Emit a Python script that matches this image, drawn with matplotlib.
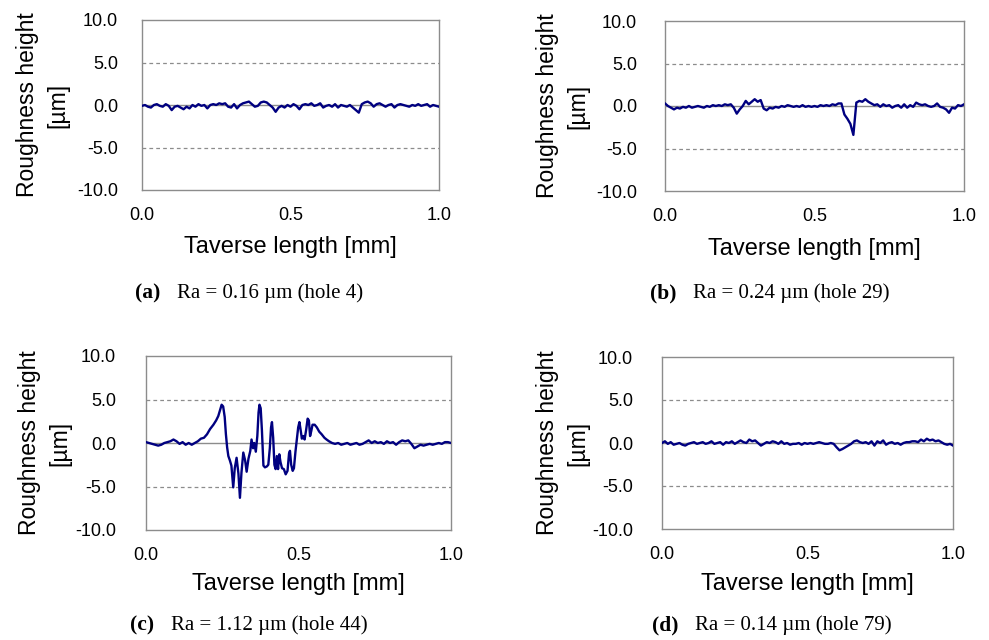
import numpy as np
import matplotlib
matplotlib.use('Agg')
import matplotlib.pyplot as plt

# sample positions of the profile traces [mm]
trace_x = np.round(np.arange(0, 1.0001, 0.01), 2)

# (a) hole 4
hole4_y = [-0.1, 0.0, -0.2, -0.3, 0.0, 0.1, -0.1, -0.2, 0.1, -0.1,
           -0.6, -0.2, -0.1, -0.3, -0.5, -0.2, -0.4, 0.0, -0.2, 0.1,
           -0.1, 0.0, -0.4, 0.0, 0.1, 0.0, 0.2, 0.1, 0.2, -0.2,
           -0.3, 0.1, -0.4, 0.0, 0.2, 0.3, 0.4, 0.1, -0.2, -0.1,
           0.3, 0.4, 0.3, 0.0, -0.3, -0.8, -0.3, -0.1, -0.3, 0.0,
           -0.2, 0.1, -0.1, -0.5, 0.0, 0.1, 0.0, 0.2, -0.1, 0.0,
           0.2, -0.3, -0.1, 0.0, -0.2, 0.1, -0.3, 0.0, -0.1, -0.2,
           0.0, -0.3, -0.6, -0.9, 0.1, 0.3, 0.4, 0.2, -0.2, 0.1,
           0.2, 0.0, -0.2, 0.0, 0.1, -0.3, 0.0, 0.1, 0.0, -0.1,
           -0.2, 0.0, -0.1, 0.1, -0.1, 0.0, 0.1, -0.2, 0.0, -0.1,
           -0.2]

# (b) hole 29
hole29_y = [0.3, 0.0, -0.2, -0.4, -0.2, -0.3, -0.1, -0.2, 0.0, -0.2,
            -0.1, 0.0, -0.1, -0.2, 0.0, -0.1, 0.1, 0.0, 0.1, 0.0,
            0.2, 0.1, 0.2, -0.2, -0.9, -0.4, 0.0, 0.6, 0.2, 0.5,
            0.8, 0.5, 0.7, -0.3, -0.5, -0.2, -0.3, -0.1, -0.2, 0.0,
            -0.1, 0.1, 0.0, -0.1, 0.0, -0.1, 0.1, -0.1, 0.0, -0.1,
            0.0, -0.1, 0.1, 0.0, 0.1, 0.0, 0.2, 0.1, 0.3, 0.3,
            -1.0, -1.5, -2.1, -3.4, 0.4, 0.6, 0.5, 0.8, 0.5, 0.3,
            0.1, 0.2, -0.1, 0.2, 0.0, 0.1, -0.2, 0.0, 0.1, -0.2,
            0.2, -0.2, 0.1, -0.1, 0.4, 0.2, 0.1, 0.2, 0.0, -0.1,
            0.0, 0.3, -0.1, -0.2, -0.4, -0.8, -0.2, -0.3, 0.1, 0.0,
            0.2]

# (c) hole 44 (irregular sampling around the defect)
hole44_x = [0.00, 0.02, 0.04, 0.05, 0.06, 0.08, 0.09, 0.10, 0.11, 0.12,
            0.13, 0.14, 0.15, 0.16, 0.17, 0.18, 0.19, 0.20, 0.21, 0.221,
            0.23, 0.237, 0.243, 0.248, 0.253, 0.258, 0.262, 0.266, 0.270, 0.275,
            0.280, 0.286, 0.291, 0.297, 0.303, 0.308, 0.313, 0.319, 0.325, 0.330,
            0.336, 0.342, 0.346, 0.351, 0.355, 0.360, 0.365, 0.369, 0.372, 0.376,
            0.380, 0.385, 0.390, 0.396, 0.401, 0.406, 0.410, 0.413, 0.417, 0.421,
            0.425, 0.429, 0.433, 0.437, 0.441, 0.446, 0.452, 0.458, 0.464, 0.469,
            0.472, 0.476, 0.481, 0.485, 0.490, 0.494, 0.499, 0.503, 0.507, 0.511,
            0.516, 0.520, 0.525, 0.530, 0.534, 0.538, 0.542, 0.546, 0.553, 0.560,
            0.568, 0.576, 0.585, 0.592, 0.60, 0.61, 0.62, 0.63, 0.64, 0.65,
            0.66, 0.67, 0.68, 0.69, 0.70, 0.71, 0.72, 0.73, 0.74, 0.75,
            0.76, 0.77, 0.78, 0.79, 0.80, 0.81, 0.82, 0.83, 0.84, 0.85,
            0.86, 0.87, 0.88, 0.89, 0.90, 0.91, 0.92, 0.93, 0.94, 0.95,
            0.96, 0.97, 0.98, 0.99, 1.00]
hole44_y = [0.1, -0.1, -0.3, -0.2, 0.0, 0.2, 0.4, 0.2, -0.1, 0.1,
            -0.2, 0.0, -0.2, 0.0, 0.2, 0.5, 0.6, 1.0, 1.6, 2.1,
            2.6, 3.1, 3.8, 4.4, 4.2, 3.0, 1.0, -0.5, -1.5, -2.0,
            -2.6, -5.1, -2.9, -1.7, -3.5, -6.3, -3.4, -1.1, -2.0, -3.3,
            -1.8, -0.9, 0.4, -0.6, 0.0, -1.0, 0.8, 3.5, 4.4, 4.0,
            1.5, -2.6, -2.8, -2.7, -2.5, -0.6, 1.8, 2.4, 0.6, -2.5,
            -3.0, -1.5, -3.0, -1.3, -2.2, -2.9, -3.0, -3.6, -3.2, -1.2,
            -0.9, -2.5, -3.2, -2.9, -1.0, 0.2, 1.8, 2.4, 1.5, 0.5,
            0.8, 0.4, 1.5, 2.8, 2.6, 0.8, 1.4, 2.1, 2.1, 1.8,
            1.3, 1.0, 0.6, 0.4, 0.2, 0.0, -0.1, 0.0, -0.2, -0.1,
            0.0, -0.2, -0.1, 0.0, -0.2, -0.1, 0.1, 0.3, 0.0, 0.2,
            0.0, 0.1, -0.1, 0.2, 0.0, 0.1, -0.2, 0.1, 0.3, 0.2,
            0.3, -0.1, -0.6, -0.4, -0.2, -0.3, -0.2, -0.1, -0.2, -0.1,
            0.0, -0.1, 0.1, 0.1, 0.0]

# (d) hole 79
hole79_y = [0.0, 0.2, -0.1, 0.1, -0.2, -0.1, 0.0, -0.2, -0.3, -0.1,
            0.0, 0.1, -0.1, 0.0, 0.1, -0.1, 0.0, 0.2, -0.1, 0.0,
            0.1, -0.2, 0.1, 0.0, 0.2, -0.1, 0.1, 0.3, 0.1, 0.0,
            0.4, 0.2, 0.3, 0.0, -0.3, -0.1, 0.1, 0.0, 0.2, 0.1,
            -0.1, 0.2, -0.1, 0.0, -0.2, -0.1, -0.1, 0.0, -0.2, 0.0,
            -0.1, 0.0, -0.1, 0.0, 0.1, 0.0, -0.1, -0.1, 0.0, -0.1,
            -0.5, -0.85, -0.7, -0.5, -0.3, -0.1, 0.2, 0.3, 0.1, 0.0,
            0.1, -0.1, 0.2, -0.3, 0.2, 0.0, 0.3, -0.2, 0.0, 0.1,
            -0.1, 0.0, -0.2, 0.0, 0.1, 0.1, 0.2, 0.2, 0.1, 0.4,
            0.2, 0.5, 0.3, 0.4, 0.2, 0.3, 0.1, -0.1, -0.2, -0.1,
            -0.3]

x_ticks = [0.0, 0.5, 1.0]
y_ticks = [-10.0, -5.0, 0.0, 5.0, 10.0]
panel_tags = ['(a)', '(b)', '(c)', '(d)']
captions = ['Ra = 0.16 \u00b5m (hole 4)', 'Ra = 0.24 \u00b5m (hole 29)',
            'Ra = 1.12 \u00b5m (hole 44)', 'Ra = 0.14 \u00b5m (hole 79)']

W, H = 989, 640
fig = plt.figure(figsize=(W / 100, H / 100), dpi=100)

# axes boxes in pixels: left, top, right, bottom
boxes = [(142, 20, 439, 190), (665, 21, 964, 191),
         (146, 356, 451, 530), (662, 357, 953, 529)]
ypads = [24, 28, 30, 29]
ylabel_x = [-0.246, -0.254, -0.246, -0.251]
xlabel_y = [-0.27, -0.276, -0.247, -0.256]
caption_pos = [(135, 293), (650, 293), (130, 625), (652, 625)]
traces = [(trace_x, hole4_y), (trace_x, hole29_y),
          (hole44_x, hole44_y), (trace_x, hole79_y)]

sans = ['Liberation Sans', 'DejaVu Sans']
serif = ['Liberation Serif', 'DejaVu Serif']
grey = '#8c8c8c'

for i, (l, t, r, b) in enumerate(boxes):
    ax = fig.add_axes([l / W, 1 - b / H, (r - l) / W, (b - t) / H])
    x, y = traces[i]
    for g in [-5, 5]:
        ax.axhline(g, color=grey, lw=0.9, ls=(0, (3, 2.5)), zorder=1)
    ax.axhline(0, color=grey, lw=1.0, zorder=1)
    ax.plot(x, y, color='#000080', lw=1.7, zorder=3)
    ax.set_xlim(0, 1)
    ax.set_ylim(-10, 10)
    ax.set_xticks(x_ticks)
    ax.set_xticklabels(['%.1f' % v for v in x_ticks], family=sans, fontsize=13)
    ax.set_yticks(y_ticks)
    ax.set_yticklabels(['%.1f' % v for v in y_ticks], family=sans, fontsize=13)
    ax.tick_params(length=0)
    ax.tick_params(axis='x', pad=12)
    ax.tick_params(axis='y', pad=ypads[i] * 0.72)
    for s in ax.spines.values():
        s.set_color(grey)
        s.set_linewidth(1.0)
    ax.set_xlabel('Taverse length [mm]', family=sans, fontsize=17)
    ax.xaxis.set_label_coords(0.5, xlabel_y[i])
    ax.set_ylabel('Roughness height\n[\u00b5m]', family=sans, fontsize=16.5,
                  linespacing=1.4)
    ax.yaxis.set_label_coords(ylabel_x[i], 0.5)

    cx, cy = caption_pos[i]
    tag = fig.text(cx / W, 1 - cy / H, panel_tags[i], family=serif,
                   fontsize=15.5, fontweight='bold', va='center', ha='left')
    plt.annotate(captions[i], xy=(1, 0.5), xycoords=tag, xytext=(12, 0),
                 textcoords='offset points', family=serif, fontsize=15,
                 va='center', ha='left')

fig.savefig('out.png', dpi=100)
